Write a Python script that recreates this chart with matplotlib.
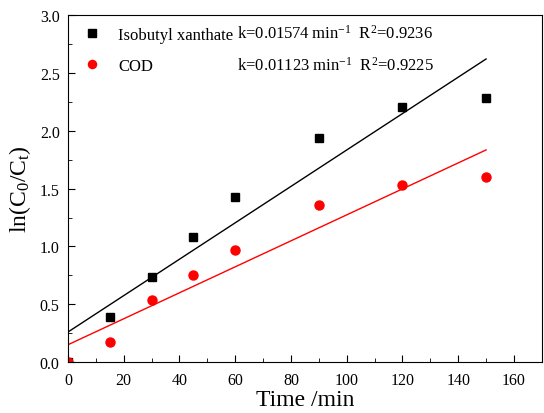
import numpy as np
import matplotlib
matplotlib.use('Agg')
import matplotlib.pyplot as plt

plt.rcParams['font.family'] = 'Liberation Serif'
plt.rcParams['mathtext.fontset'] = 'custom'
plt.rcParams['mathtext.rm'] = 'Liberation Serif'
plt.rcParams['mathtext.it'] = 'Liberation Serif:italic'

# data
time = [0, 15, 30, 45, 60, 90, 120, 150]
xanthate = [0.0, 0.39, 0.74, 1.08, 1.43, 1.94, 2.21, 2.28]
cod = [0.0, 0.17, 0.54, 0.75, 0.97, 1.36, 1.53, 1.60]

# linear fits (slope, intercept)
xan_k, xan_b = 0.01574, 0.26
cod_k, cod_b = 0.01123, 0.15
fit_x = np.array([0, 150])

fig = plt.figure(figsize=(5.44, 4.14), dpi=100)
ax = fig.add_axes([0.125, 0.123, 0.871, 0.838])

ax.plot(fit_x, xan_k * fit_x + xan_b, color='black', lw=1)
ax.plot(fit_x, cod_k * fit_x + cod_b, color='red', lw=1)
ax.plot(time, xanthate, 's', color='black', ms=6, label='Isobutyl xanthate')
ax.plot(time, cod, 'o', color='red', ms=6.5, label='COD')

ax.set_xlim(0, 170)
ax.set_ylim(0, 3.0)
ax.set_xticks(np.arange(0, 161, 20))
ax.set_xticks(np.arange(10, 171, 20), minor=True)
ax.set_yticks(np.arange(0, 3.01, 0.5))
ax.set_yticks(np.arange(0.25, 3.0, 0.5), minor=True)
ax.yaxis.set_major_formatter(matplotlib.ticker.FormatStrFormatter('%.1f'))
ax.tick_params(which='both', direction='in', labelsize=11.5)
ax.tick_params(which='major', length=5)
ax.tick_params(which='minor', length=3)
ax.tick_params(axis='x', pad=7)
ax.tick_params(axis='y', pad=6)

ax.set_xlabel('Time /min', fontsize=17, labelpad=1)
ax.set_ylabel(r'ln(C$_\mathrm{0}$/C$_\mathrm{t}$)', fontsize=17, labelpad=5)

ax.legend(loc='upper left', frameon=False, fontsize=12, handletextpad=0.8,
          labelspacing=0.9, borderaxespad=0.3, handlelength=1.5, markerscale=0.9)
ax.text(0.357, 0.948, 'k=0.01574 min$^{-1}$  R$^2$=0.9236', transform=ax.transAxes,
        fontsize=12, va='center')
ax.text(0.357, 0.856, 'k=0.01123 min$^{-1}$  R$^2$=0.9225', transform=ax.transAxes,
        fontsize=12, va='center')

fig.savefig('out.png', dpi=100)
